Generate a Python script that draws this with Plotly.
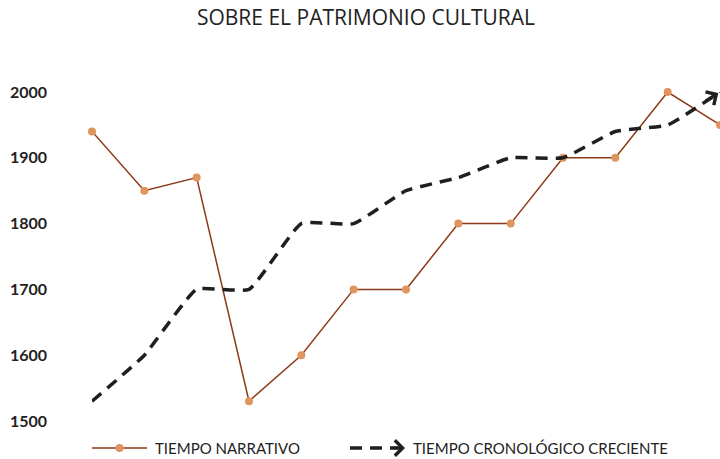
import plotly.graph_objects as go

W, H = 720, 459

# ---- data ----
x_idx = list(range(13))
narrativo = [1940, 1850, 1870, 1530, 1600, 1700, 1700, 1800, 1800, 1900, 1900, 2000, 1950]
cronologico = [1530, 1600, 1700, 1700, 1800, 1800, 1850, 1870, 1900, 1900, 1940, 1950, 2000]
y_ticks = [1500, 1600, 1700, 1800, 1900, 2000]
title_text = "SOBRE EL PATRIMONIO CULTURAL"
series_names = ["TIEMPO NARRATIVO", "TIEMPO CRONOLÓGICO CRECIENTE"]

# ---- layout geometry ----
ML, MR, MT, MB = 92, 0, 92, 38
PW, PH = W - ML - MR, H - MT - MB
FONT = "Lato"
BROWN = "#8B3A17"
ORANGE = "#E0955F"
DARK = "#1F1F1F"
LEG_Y = 448


def pxx(xp):
    return (xp - ML) / PW


def pxy(yp):
    return (H - MB - yp) / PH


fig = go.Figure()
fig.add_trace(go.Scatter(
    x=x_idx, y=narrativo, name=series_names[0], mode="lines+markers",
    line=dict(color=BROWN, width=1.5),
    marker=dict(color=ORANGE, size=8),
    cliponaxis=False, showlegend=False,
))
fig.add_trace(go.Scatter(
    x=x_idx, y=cronologico, name=series_names[1], mode="lines",
    line=dict(color=DARK, width=3.5, dash="12px,8px", shape="spline", smoothing=0.4),
    cliponaxis=False, showlegend=False,
))

annotations = [
    # arrowhead at end of chronological series
    dict(x=x_idx[-1], y=cronologico[-1], xref="x", yref="y", text="",
         showarrow=True, arrowhead=4, arrowsize=1, arrowwidth=3,
         arrowcolor=DARK, ax=-16, ay=10, standoff=2),
    # legend texts
    dict(x=pxx(153), y=pxy(LEG_Y), xref="paper", yref="paper", text=series_names[0],
         showarrow=False, xanchor="left", yanchor="middle",
         font=dict(family=FONT, size=15, color="#222")),
    dict(x=pxx(411), y=pxy(LEG_Y), xref="paper", yref="paper", text=series_names[1],
         showarrow=False, xanchor="left", yanchor="middle",
         font=dict(family=FONT, size=15, color="#222")),
    # legend arrowhead
    dict(x=pxx(405), y=pxy(LEG_Y), xref="paper", yref="paper", text="",
         showarrow=True, arrowhead=4, arrowsize=1, arrowwidth=3,
         arrowcolor=DARK, ax=-12, ay=0),
]

shapes = [
    dict(type="line", xref="paper", yref="paper", x0=pxx(92), x1=pxx(147),
         y0=pxy(LEG_Y), y1=pxy(LEG_Y), line=dict(color=BROWN, width=1.5)),
    dict(type="circle", xref="paper", yref="paper", x0=pxx(115.5), x1=pxx(123.5),
         y0=pxy(LEG_Y + 4), y1=pxy(LEG_Y - 4), line=dict(width=0), fillcolor=ORANGE),
    dict(type="line", xref="paper", yref="paper", x0=pxx(350), x1=pxx(398),
         y0=pxy(LEG_Y), y1=pxy(LEG_Y), line=dict(color=DARK, width=3.5, dash="12px,8px")),
]

fig.update_layout(
    width=W, height=H,
    margin=dict(l=ML, r=MR, t=MT, b=MB, pad=0),
    paper_bgcolor="white", plot_bgcolor="white",
    title=dict(text=title_text, x=366 / W, xref="container", xanchor="center",
               y=1 - 17.5 / H, yref="container", yanchor="middle",
               font=dict(family="Open Sans", size=21, color="#222")),
    xaxis=dict(visible=False, range=[x_idx[0], x_idx[-1]]),
    yaxis=dict(range=[1500, 2000], tickvals=y_ticks, showgrid=False, zeroline=False,
               showline=False, ticks="", ticklabelstandoff=44,
               tickfont=dict(family=FONT, size=16, color="#222", weight="bold")),
    annotations=annotations, shapes=shapes,
    showlegend=False,
)

fig.write_html("out.html", config={"displayModeBar": False},
               post_script="document.body.style.margin='0';")
